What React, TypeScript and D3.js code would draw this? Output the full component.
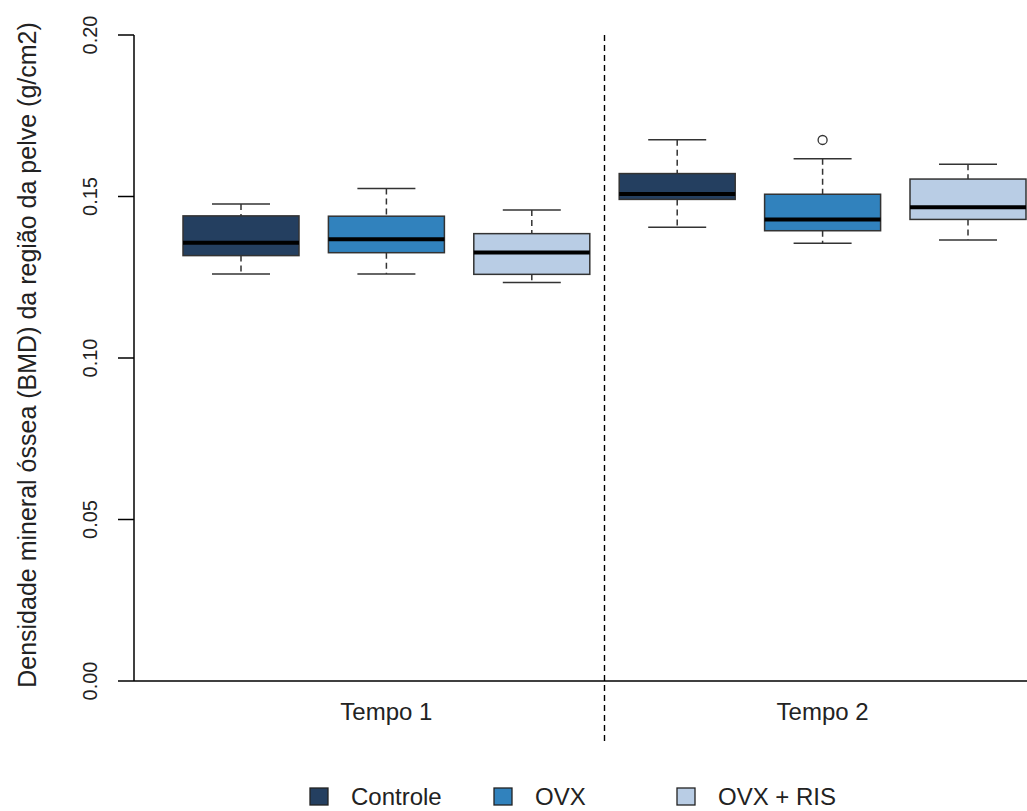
import React from "react";
import * as d3 from "d3";

const times = ["Tempo 1", "Tempo 2"];
const groups = ["Controle", "OVX", "OVX + RIS"];
const colors = ["#243F60", "#3182BD", "#B9CDE5"];

// stats per box, ordered Tempo1 (Controle, OVX, RIS), Tempo2 (Controle, OVX, RIS)
const whiskerLow = [0.126, 0.126, 0.1234, 0.1405, 0.1355, 0.1365];
const q1 = [0.1317, 0.1326, 0.1259, 0.1491, 0.1394, 0.1429];
const median = [0.1357, 0.1368, 0.1327, 0.1508, 0.1429, 0.1467];
const q3 = [0.144, 0.1439, 0.1385, 0.1571, 0.1507, 0.1554];
const whiskerHigh = [0.1477, 0.1525, 0.1458, 0.1676, 0.1617, 0.16];
const outliers: number[][] = [[], [], [], [], [0.1675], []];

const yTicks = [0, 0.05, 0.1, 0.15, 0.2];

const W = 1027;
const H = 811;

export default function App() {
  const y = d3.scaleLinear().domain([0, 0.2]).range([681, 35]);
  const x = d3.scaleLinear().domain([0, 5]).range([241, 968]);
  const boxW = 116;
  const capW = 58;
  const axisX = 134;
  const fmt = d3.format(".2f");
  const font = "'Liberation Sans', Arial, sans-serif";
  const sep = (x(2) + x(3)) / 2;
  const legendX = [310, 494, 677];

  return (
    <svg
      width={W}
      height={H}
      style={{ position: "absolute", left: 0, top: 0, background: "#fff" }}
      fontFamily={font}
    >
      {/* y axis */}
      <line x1={axisX} x2={axisX} y1={y(0.2)} y2={y(0)} stroke="#000" strokeWidth={1.5} />
      {yTicks.map((t) => (
        <g key={t}>
          <line x1={axisX - 16} x2={axisX} y1={y(t)} y2={y(t)} stroke="#000" strokeWidth={1.5} />
          <text
            transform={`translate(${97},${y(t)}) rotate(-90)`}
            textAnchor="middle"
            fontSize={20}
            fill="#222"
          >
            {fmt(t)}
          </text>
        </g>
      ))}
      <text
        transform={`translate(${36},${355}) rotate(-90)`}
        textAnchor="middle"
        fontSize={25}
        fill="#222"
      >
        Densidade mineral óssea (BMD) da região da pelve (g/cm2)
      </text>
      {/* x axis line */}
      <line x1={axisX} x2={W} y1={y(0)} y2={y(0)} stroke="#000" strokeWidth={1.5} />
      {/* separator */}
      <line x1={sep} x2={sep} y1={y(0.2)} y2={742} stroke="#000" strokeWidth={1.4} strokeDasharray="6,4" />
      {/* x labels */}
      {times.map((t, i) => (
        <text key={t} x={x(i * 3 + 1)} y={720} textAnchor="middle" fontSize={24} fill="#222">
          {t}
        </text>
      ))}
      {/* boxes */}
      {median.map((m, i) => {
        const cx = x(i);
        const c = colors[i % 3];
        return (
          <g key={i}>
            <line x1={cx} x2={cx} y1={y(whiskerHigh[i])} y2={y(q3[i])} stroke="#333" strokeWidth={1.5} strokeDasharray="6,4" />
            <line x1={cx} x2={cx} y1={y(q1[i])} y2={y(whiskerLow[i])} stroke="#333" strokeWidth={1.5} strokeDasharray="6,4" />
            <line x1={cx - capW / 2} x2={cx + capW / 2} y1={y(whiskerHigh[i])} y2={y(whiskerHigh[i])} stroke="#333" strokeWidth={1.5} />
            <line x1={cx - capW / 2} x2={cx + capW / 2} y1={y(whiskerLow[i])} y2={y(whiskerLow[i])} stroke="#333" strokeWidth={1.5} />
            <rect
              x={cx - boxW / 2}
              y={y(q3[i])}
              width={boxW}
              height={y(q1[i]) - y(q3[i])}
              fill={c}
              stroke="#333"
              strokeWidth={1.5}
            />
            <line x1={cx - boxW / 2} x2={cx + boxW / 2} y1={y(m)} y2={y(m)} stroke="#000" strokeWidth={4} />
            {outliers[i].map((o, k) => (
              <circle key={k} cx={cx} cy={y(o)} r={4.5} fill="none" stroke="#333" strokeWidth={1.3} />
            ))}
          </g>
        );
      })}
      {/* legend */}
      {groups.map((g, i) => {
        const lx = legendX[i];
        return (
          <g key={g}>
            <rect x={lx} y={788} width={18} height={17} fill={colors[i]} stroke="#222" strokeWidth={1.3} />
            <text x={lx + 41} y={805} fontSize={24} fill="#222">
              {g}
            </text>
          </g>
        );
      })}
    </svg>
  );
}
